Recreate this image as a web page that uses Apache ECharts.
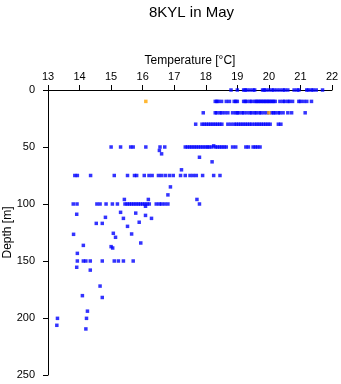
<!DOCTYPE html>
<html>
<head>
<meta charset="utf-8">
<script src="https://cdn.jsdelivr.net/npm/echarts@6/dist/echarts.min.js"></script>
<style>html,body{margin:0;padding:0;background:#fff}#c{width:341px;height:384px}</style>
</head>
<body>
<div id="c"></div>
<script>
// Temperature readings grouped by standard depth levels (m)
const row0 = [18.8, 19.0, 19.2, 19.25, 19.3, 19.4, 19.5, 19.55, 19.8, 19.85, 19.9, 20.0, 20.1, 20.15, 20.25, 20.35, 20.45, 20.5, 20.6, 20.8, 20.9, 20.95, 21.2, 21.25, 21.35, 21.4, 21.5, 21.7];
const row10 = [18.3, 18.35, 18.4, 18.5, 18.65, 18.75, 18.9, 18.95, 19.0, 19.2, 19.25, 19.3, 19.4, 19.45, 19.55, 19.6, 19.65, 19.7, 19.75, 19.8, 19.85, 19.9, 19.95, 20.0, 20.05, 20.1, 20.15, 20.2, 20.35, 20.45, 20.5, 20.6, 20.65, 20.75, 20.95, 21.0, 21.1, 21.2, 21.35];
const row20 = [17.92, 18.3, 18.35, 18.45, 18.5, 18.6, 18.7, 18.85, 18.95, 19.0, 19.05, 19.15, 19.2, 19.3, 19.4, 19.45, 19.55, 19.6, 19.7, 19.75, 19.85, 19.95, 20.08, 20.15, 20.2, 20.3, 20.35, 20.45, 20.6, 20.72, 21.15];
const row30 = [17.68, 17.88, 17.95, 18.02, 18.09, 18.16, 18.23, 18.3, 18.37, 18.44, 18.51, 18.7, 18.8, 18.9, 18.97, 19.04, 19.11, 19.18, 19.25, 19.32, 19.39, 19.46, 19.55, 19.62, 19.69, 19.76, 19.83, 19.9, 19.97, 20.04, 20.3, 20.38];
const row50 = [15.0, 15.3, 15.62, 15.7, 16.1, 16.55, 16.7, 17.35, 17.42, 17.49, 17.56, 17.63, 17.7, 17.77, 17.84, 17.91, 17.98, 18.05, 18.1, 18.18, 18.3, 18.37, 18.44, 18.51, 18.58, 18.65, 18.85, 18.95, 19.27, 19.35, 19.5, 19.57, 19.64, 19.72];
const row75 = [13.85, 13.93, 14.35, 15.1, 15.52, 15.74, 15.81, 16.05, 16.2, 16.3, 16.5, 16.6, 16.72, 16.85, 16.97, 17.2, 17.35, 17.5, 17.6, 17.7, 17.9, 18.25, 18.45];
const row100 = [13.8, 13.92, 14.55, 14.65, 14.84, 15.04, 15.2, 15.44, 15.51, 15.58, 15.65, 15.72, 15.79, 15.86, 15.93, 16.0, 16.07, 16.14, 16.21, 16.43, 16.53, 16.6, 16.7, 16.8];
const row150 = [13.93, 14.12, 14.2, 14.34, 14.72, 15.1, 15.23, 15.39, 15.7];
// Off-level readings
const otherTemp  = [18.25, 16.53, 16.6, 17.8, 18.2, 17.23, 16.88, 16.8, 17.72, 17.8, 15.42, 16.18, 16.09, 13.91, 14.82, 15.3, 15.78, 16.09, 15.39, 16.28, 14.53, 14.72, 15.52, 15.89, 13.81, 15.07, 15.65, 15.14, 14.12, 15.0, 15.05, 15.94, 13.93, 13.91, 14.34, 14.65, 14.09, 14.72, 14.25, 13.3, 14.22, 13.28, 14.2];
const otherDepth = [49, 53, 56, 59, 63, 70, 85, 92, 96, 100, 96, 96, 102, 109, 111.7, 107.3, 108, 110, 112.6, 112.6, 117, 117, 119.6, 116, 126.6, 125.7, 126.3, 129.2, 136.3, 137.4, 138.6, 134.2, 143.3, 155.5, 158, 172, 180.4, 182, 194, 200.3, 200.3, 206.4, 209.6];
// Highlighted readings
const orangeTemp  = [16.1, 20.0];
const orangeDepth = [10, 20];

const levels = [[row0, 0], [row10, 10], [row20, 20], [row30, 30], [row50, 50], [row75, 75], [row100, 100], [row150, 150]];
const blue = [];
levels.forEach(([arr, d]) => arr.forEach(t => blue.push([t, d])));
otherTemp.forEach((t, i) => blue.push([t, otherDepth[i]]));
const orange = orangeTemp.map((t, i) => [t, orangeDepth[i]]);

const FF = 'Liberation Sans, Arial, sans-serif';
const chart = echarts.init(document.getElementById('c'), null, {renderer: 'canvas'});
chart.setOption({
  animation: false,
  backgroundColor: '#fff',
  title: {
    text: '8KYL in May', left: 144, top: 0,
    textStyle: {fontSize: 15, fontWeight: 'normal', color: '#000', fontFamily: FF}
  },
  grid: {left: 48, right: 9, top: 90, bottom: 9, containLabel: false, outerBoundsMode: 'none'},
  xAxis: {
    type: 'value', position: 'top', min: 13, max: 22, interval: 1,
    name: 'Temperature [°C]', nameLocation: 'middle', nameGap: 23, nameMoveOverlap: false,
    nameTextStyle: {fontSize: 12, color: '#000', fontFamily: FF},
    axisLine: {show: true, onZero: false, lineStyle: {color: '#000', width: 1}},
    axisTick: {show: true, inside: false, length: 5, lineStyle: {color: '#000', width: 1}},
    axisLabel: {color: '#000', fontSize: 11, margin: 8, fontFamily: FF, showMinLabel: true, showMaxLabel: true},
    splitLine: {show: false}
  },
  yAxis: {
    type: 'value', inverse: true, min: 0, max: 250, interval: 50,
    name: 'Depth [m]', nameLocation: 'middle', nameGap: 34, nameRotate: 90, nameMoveOverlap: false,
    nameTextStyle: {fontSize: 12, color: '#000', fontFamily: FF},
    axisLine: {show: true, onZero: false, lineStyle: {color: '#000', width: 1}},
    axisTick: {show: true, inside: false, length: 5, lineStyle: {color: '#000', width: 1}},
    axisLabel: {color: '#000', fontSize: 11, margin: 13, fontFamily: FF, showMinLabel: true, showMaxLabel: true},
    splitLine: {show: false}
  },
  series: [
    {type: 'scatter', data: blue, symbol: 'rect', symbolSize: 3.5, clip: false,
     itemStyle: {color: '#0000ff'}},
    {type: 'scatter', data: orange, symbol: 'rect', symbolSize: 3.5, clip: false,
     itemStyle: {color: '#ffa500'}}
  ]
});
</script>
</body>
</html>
